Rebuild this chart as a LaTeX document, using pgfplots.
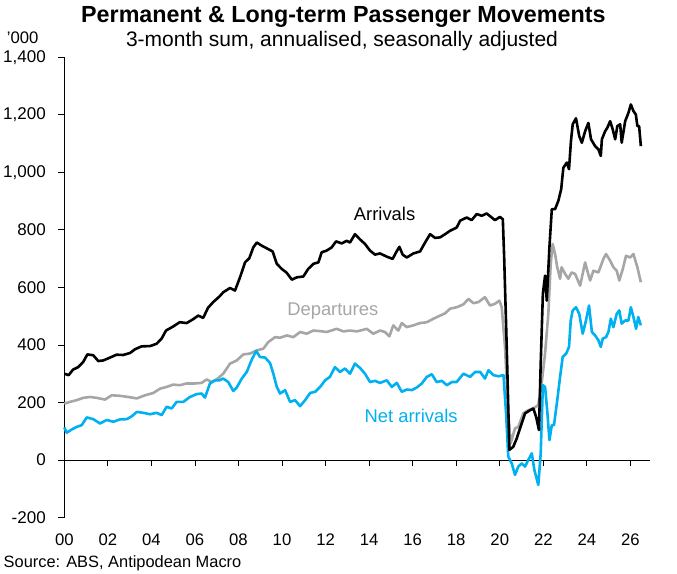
\documentclass[border=0pt]{standalone}
\usepackage{fontspec}
\setmainfont{Liberation Sans}
\usepackage{pgfplots}
\pgfplotsset{compat=1.18}
\definecolor{netc}{RGB}{0,176,240}
\definecolor{depc}{RGB}{166,166,166}
\begin{document}
\begin{tikzpicture}[x=1pt,y=1pt]
\path[use as bounding box] (0,0) rectangle (677,573);
\node[anchor=base, font=\bfseries\fontsize{23.3}{27}\selectfont] at (343.4,550.3) {Permanent \& Long-term Passenger Movements};
\node[anchor=base, font=\fontsize{21}{25}\selectfont] at (342,526.3) {3-month sum, annualised, seasonally adjusted};
\node[anchor=base west, inner sep=0pt, font=\fontsize{16.7}{20}\selectfont] at (6.7,529.7) {\symbol{39}000};
\node[anchor=base west, inner sep=0pt, font=\fontsize{16.4}{20}\selectfont] at (3.5,5.7) {Source: ABS, Antipodean Macro};
\begin{axis}[
  at={(64.3pt,55.5pt)}, anchor=south west,
  scale only axis, width=585.7pt, height=460.2pt,
  xmin=2000, xmax=2026.9, ymin=-200, ymax=1400,
  axis y line=left, axis x line=middle,
  axis line style={-, black, line width=0.8pt},
  tick align=outside, major tick length=6pt,
  tick style={black, line width=0.8pt},
  hide obscured x ticks=false, hide obscured y ticks=false,
  xtick={2000,2002,...,2026},
  xticklabels={00,02,04,06,08,10,12,14,16,18,20,22,24,26},
  ytick={-200,0,...,1400},
  /pgf/number format/assume math mode=true,
  /pgf/number format/1000 sep={,},
  yticklabel style={font=\fontsize{17}{20}\selectfont, xshift=-9pt},
  xticklabel style={font=\fontsize{16.7}{20}\selectfont, anchor=base, yshift=-79.5pt},
  clip=false,
]
\addplot[depc, line width=2.6pt, line join=round] coordinates {
(2000.0,196) (2000.26,202) (2000.57,208) (2000.87,216) (2001.18,219) (2001.49,216)
(2001.87,210) (2002.18,225) (2002.56,223) (2002.94,219) (2003.33,214) (2003.71,225)
(2004.09,233) (2004.4,248) (2004.7,254) (2005.0,262) (2005.31,260) (2005.62,266)
(2006.0,266) (2006.31,268) (2006.54,280) (2006.77,271) (2007.0,280) (2007.3,300)
(2007.61,335) (2007.92,346) (2008.22,367) (2008.53,370) (2008.84,381) (2009.14,387)
(2009.37,410) (2009.68,427) (2009.91,425) (2010.22,433) (2010.52,427) (2010.83,445)
(2011.13,439) (2011.44,450) (2011.75,448) (2012.05,445) (2012.51,456) (2012.82,447)
(2013.12,450) (2013.43,447) (2013.7,452) (2013.89,456) (2014.19,439) (2014.5,450)
(2014.73,445) (2014.93,430) (2015.11,468) (2015.34,450) (2015.5,476) (2015.73,462)
(2016.03,468) (2016.34,476) (2016.65,479) (2016.95,491) (2017.26,502) (2017.49,510)
(2017.72,526) (2018.02,531) (2018.33,541) (2018.56,560) (2018.79,545) (2019.02,549)
(2019.32,566) (2019.55,537) (2019.78,543) (2019.98,554) (2020.09,531) (2020.24,393)
(2020.39,162) (2020.5,58) (2020.7,110) (2020.85,115) (2021.08,162) (2021.31,173)
(2021.54,179) (2021.77,191) (2021.93,271) (2022.08,370) (2022.23,508) (2022.34,682)
(2022.43,751) (2022.54,716) (2022.64,670) (2022.77,630) (2022.84,670) (2023.0,647)
(2023.15,630) (2023.3,652) (2023.46,647) (2023.69,606) (2023.92,687) (2024.02,658)
(2024.15,624) (2024.3,658) (2024.53,652) (2024.76,699) (2024.88,716) (2025.07,693)
(2025.22,670) (2025.37,658) (2025.49,624) (2025.65,664) (2025.8,710) (2025.99,704)
(2026.14,716) (2026.32,670) (2026.48,618)
};
\addplot[netc, line width=2.6pt, line join=round] coordinates {
(2000.0,113) (2000.11,95) (2000.34,106) (2000.57,115) (2000.8,121) (2001.03,148)
(2001.33,142) (2001.64,127) (2001.95,139) (2002.25,133) (2002.56,141) (2002.87,142)
(2003.1,152) (2003.33,167) (2003.63,164) (2003.94,159) (2004.24,164) (2004.47,156)
(2004.7,185) (2004.93,179) (2005.16,202) (2005.47,202) (2005.77,219) (2006.08,229)
(2006.31,231) (2006.46,217) (2006.69,266) (2006.92,277) (2007.12,277) (2007.3,283)
(2007.53,271) (2007.76,240) (2007.92,252) (2008.15,283) (2008.38,306) (2008.61,349)
(2008.81,379) (2008.99,358) (2009.22,356) (2009.45,337) (2009.6,300) (2009.76,254)
(2009.91,231) (2010.14,243) (2010.37,202) (2010.6,208) (2010.83,187) (2011.06,208)
(2011.29,233) (2011.52,237) (2011.75,254) (2011.98,277) (2012.2,289) (2012.43,323)
(2012.66,306) (2012.89,318) (2013.12,300) (2013.35,335) (2013.58,320) (2013.81,300)
(2014.04,271) (2014.27,275) (2014.5,268) (2014.81,277) (2015.04,254) (2015.27,268)
(2015.5,237) (2015.73,245) (2015.96,243) (2016.19,252) (2016.42,266) (2016.65,289)
(2016.88,298) (2017.1,271) (2017.34,275) (2017.57,260) (2017.8,271) (2018.02,271)
(2018.33,300) (2018.64,289) (2018.87,306) (2019.1,306) (2019.32,283) (2019.48,312)
(2019.71,295) (2019.94,291) (2020.17,295) (2020.29,162) (2020.39,12) (2020.55,-12)
(2020.7,-52) (2020.85,-23) (2021.01,-12) (2021.16,-23) (2021.31,0) (2021.47,23)
(2021.59,-35) (2021.77,-87) (2021.88,23) (2021.98,260) (2022.08,254) (2022.19,162)
(2022.28,69) (2022.39,121) (2022.49,121) (2022.64,208) (2022.77,289) (2022.89,358)
(2023.05,370) (2023.18,393) (2023.26,485) (2023.35,520) (2023.5,531) (2023.65,508)
(2023.81,439) (2023.96,485) (2024.1,537) (2024.23,445) (2024.38,433) (2024.53,416)
(2024.64,393) (2024.73,422) (2024.88,427) (2024.99,445) (2025.1,491) (2025.22,462)
(2025.37,508) (2025.49,520) (2025.6,474) (2025.76,485) (2025.91,485) (2026.02,531)
(2026.14,497) (2026.26,456) (2026.36,497) (2026.48,468)
};
\addplot[black, line width=2.6pt, line join=round] coordinates {
(2000.0,300) (2000.2,295) (2000.4,314) (2000.64,323) (2000.87,341) (2001.06,367)
(2001.33,364) (2001.56,344) (2001.79,346) (2002.1,356) (2002.4,366) (2002.7,365)
(2003.02,372) (2003.25,385) (2003.55,395) (2003.94,396) (2004.24,404) (2004.47,422)
(2004.67,450) (2005.0,464) (2005.3,479) (2005.62,476) (2005.93,490) (2006.15,502)
(2006.38,494) (2006.6,529) (2006.84,549) (2007.12,568) (2007.3,583) (2007.61,598)
(2007.84,589) (2008.07,635) (2008.3,687) (2008.5,702) (2008.68,739) (2008.84,756)
(2009.07,745) (2009.37,733) (2009.57,725) (2009.76,682) (2009.99,664) (2010.2,652)
(2010.45,627) (2010.68,635) (2010.98,638) (2011.2,664) (2011.44,682) (2011.67,687)
(2011.82,722) (2012.05,728) (2012.28,739) (2012.48,760) (2012.74,753) (2012.97,762)
(2013.12,756) (2013.35,785) (2013.58,767) (2013.81,751) (2014.04,728) (2014.27,714)
(2014.5,718) (2014.81,707) (2015.08,699) (2015.24,722) (2015.39,741) (2015.54,714)
(2015.73,704) (2016.03,718) (2016.34,725) (2016.57,756) (2016.8,785) (2017.03,772)
(2017.26,774) (2017.49,785) (2017.72,797) (2018.02,808) (2018.18,832) (2018.48,843)
(2018.71,834) (2018.94,855) (2019.17,849) (2019.4,857) (2019.63,843) (2019.78,834)
(2020.01,845) (2020.14,837) (2020.2,710) (2020.32,393) (2020.44,35) (2020.62,46)
(2020.78,75) (2020.93,110) (2021.16,162) (2021.39,173) (2021.54,179) (2021.67,150)
(2021.8,104) (2021.88,335) (2021.98,578) (2022.08,641) (2022.16,554) (2022.28,739)
(2022.39,872) (2022.54,872) (2022.69,901) (2022.82,941) (2022.92,1016) (2023.08,1034)
(2023.18,1011) (2023.27,1109) (2023.35,1167) (2023.5,1188) (2023.65,1126) (2023.77,1103)
(2023.92,1143) (2024.07,1172) (2024.19,1115) (2024.38,1091) (2024.53,1080) (2024.64,1057)
(2024.69,1115) (2024.84,1143) (2024.94,1155) (2025.07,1178) (2025.19,1149) (2025.3,1115)
(2025.4,1161) (2025.53,1167) (2025.6,1103) (2025.76,1178) (2025.91,1207) (2026.02,1236)
(2026.14,1213) (2026.25,1201) (2026.32,1161) (2026.4,1161) (2026.48,1091)
};
\node[anchor=base, font=\fontsize{18.4}{22}\selectfont, black] at (axis cs:2014.71,834) {Arrivals};
\node[anchor=base, font=\fontsize{18.4}{22}\selectfont, depc] at (axis cs:2012.33,504) {Departures};
\node[anchor=base, font=\fontsize{18.4}{22}\selectfont, netc] at (axis cs:2015.93,130) {Net arrivals};
\end{axis}
\end{tikzpicture}
\end{document}
